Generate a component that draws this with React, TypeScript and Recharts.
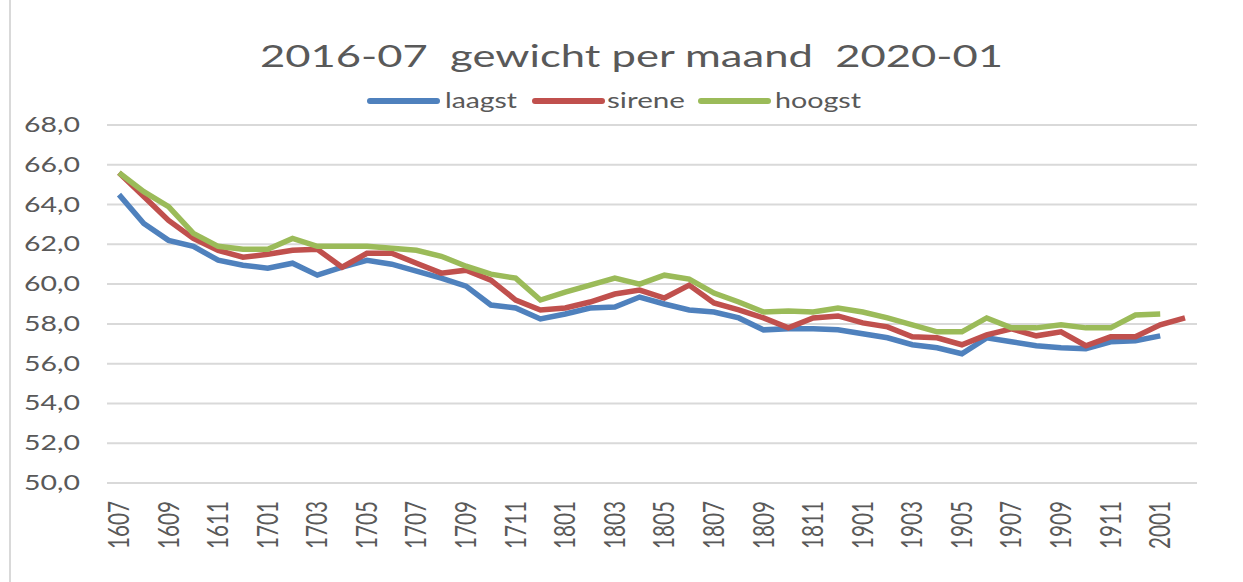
import React from 'react';
import { LineChart, Line, XAxis, YAxis, CartesianGrid, Legend } from 'recharts';

const months = [
  '1607', '1608', '1609', '1610', '1611', '1612',
  '1701', '1702', '1703', '1704', '1705', '1706', '1707', '1708', '1709', '1710', '1711', '1712',
  '1801', '1802', '1803', '1804', '1805', '1806', '1807', '1808', '1809', '1810', '1811', '1812',
  '1901', '1902', '1903', '1904', '1905', '1906', '1907', '1908', '1909', '1910', '1911', '1912',
  '2001', '2002',
];

const laagst = [
  64.5, 63.05, 62.2, 61.9, 61.2, 60.95,
  60.8, 61.05, 60.45, 60.85, 61.2, 61.0, 60.65, 60.3, 59.9, 58.95, 58.8, 58.25,
  58.5, 58.8, 58.85, 59.35, 59.0, 58.7, 58.6, 58.3, 57.7, 57.75, 57.75, 57.7,
  57.5, 57.3, 56.95, 56.8, 56.5, 57.3, 57.1, 56.9, 56.8, 56.75, 57.1, 57.15,
  57.4, null,
];

const sirene = [
  65.6, 64.4, 63.2, 62.3, 61.7, 61.35,
  61.5, 61.7, 61.75, 60.85, 61.55, 61.55, 61.05, 60.55, 60.7, 60.2, 59.2, 58.7,
  58.8, 59.1, 59.5, 59.7, 59.3, 59.95, 59.05, 58.7, 58.3, 57.8, 58.3, 58.4,
  58.05, 57.85, 57.35, 57.3, 56.95, 57.45, 57.75, 57.4, 57.6, 56.9, 57.35, 57.35,
  57.95, 58.3,
];

const hoogst = [
  65.6, 64.65, 63.9, 62.55, 61.9, 61.75,
  61.75, 62.3, 61.9, 61.9, 61.9, 61.8, 61.7, 61.4, 60.9, 60.5, 60.3, 59.2,
  59.6, 59.95, 60.3, 60.0, 60.45, 60.25, 59.55, 59.1, 58.6, 58.65, 58.6, 58.8,
  58.6, 58.3, 57.95, 57.6, 57.6, 58.3, 57.8, 57.8, 57.95, 57.8, 57.8, 58.45,
  58.5, null,
];

const yTicks = [50, 52, 54, 56, 58, 60, 62, 64, 66, 68];

const seriesInfo = [
  { key: 'laagst', name: 'laagst', color: '#4F81BD' },
  { key: 'sirene', name: 'sirene', color: '#C0504D' },
  { key: 'hoogst', name: 'hoogst', color: '#9BBB59' },
];

const data = months.map((m, i) => ({
  m,
  laagst: laagst[i],
  sirene: sirene[i],
  hoogst: hoogst[i],
}));

const FONT = 'Lato, "Liberation Sans", sans-serif';
const TEXT = '#595959';

const XTick = (props: any) => {
  const { x, y, payload } = props;
  return (
    <g transform={`translate(${x + 10},${y + 10})`}>
      <text
        transform="rotate(-90)"
        textAnchor="end"
        fontSize={28}
        textLength={48}
        lengthAdjust="spacingAndGlyphs"
        fill={TEXT}
        fontFamily={FONT}
      >
        {payload.value}
      </text>
    </g>
  );
};

const YTick = (props: any) => {
  const { y, payload } = props;
  const label = Number(payload.value).toFixed(1).replace('.', ',');
  return (
    <text
      x={80}
      y={y}
      dy={7}
      textAnchor="end"
      fontSize={21}
      textLength={56}
      lengthAdjust="spacingAndGlyphs"
      fill={TEXT}
      fontFamily={FONT}
    >
      {label}
    </text>
  );
};

const legendPos = [
  { lx: 367, tx: 445, tl: 72 },
  { lx: 532, tx: 607, tl: 78 },
  { lx: 698, tx: 775, tl: 86 },
];

const LegendContent = () => (
  <svg width={1243} height={30} style={{ display: 'block' }}>
    {seriesInfo.map((s, i) => (
      <g key={s.key}>
        <line
          x1={legendPos[i].lx + 3}
          x2={legendPos[i].lx + 70}
          y1={13}
          y2={13}
          stroke={s.color}
          strokeWidth={6}
          strokeLinecap="round"
        />
        <text
          x={legendPos[i].tx}
          y={20}
          fontSize={21}
          textLength={legendPos[i].tl}
          lengthAdjust="spacingAndGlyphs"
          fill={TEXT}
          fontFamily={FONT}
        >
          {s.name}
        </text>
      </g>
    ))}
  </svg>
);

export default function App() {
  return (
    <div style={{ position: 'absolute', left: 0, top: 0, width: 1243, height: 582, background: '#fff' }}>
      <div style={{ position: 'absolute', left: 9, top: 0, width: 2, height: 582, background: '#d9d9d9' }} />
      <svg width={1243} height={90} style={{ position: 'absolute', left: 0, top: 0 }}>
        <text
          x={260}
          y={67}
          fontSize={30}
          textLength={743}
          lengthAdjust="spacingAndGlyphs"
          fill={TEXT}
          fontFamily={FONT}
          style={{ whiteSpace: 'pre' }}
          xmlSpace="preserve"
        >
          {'2016-07  gewicht per maand  2020-01'}
        </text>
      </svg>
      <LineChart
        width={1243}
        height={582}
        data={data}
        margin={{ top: 95, right: 46, bottom: 39, left: 10 }}
        style={{ position: 'absolute', left: 0, top: 0 }}
      >
        <CartesianGrid vertical={false} stroke="#d9d9d9" strokeWidth={2} />
        <XAxis
          dataKey="m"
          interval={1}
          tick={<XTick />}
          tickLine={false}
          axisLine={{ stroke: '#d9d9d9', strokeWidth: 2 }}
          height={60}
          padding={{ left: 12, right: 12 }}
        />
        <YAxis
          domain={[50, 68]}
          ticks={yTicks}
          tick={<YTick />}
          tickLine={false}
          axisLine={false}
          width={97}
          interval={0}
        />
        <Legend
          verticalAlign="top"
          content={<LegendContent />}
          wrapperStyle={{ position: 'absolute', left: 0, top: 88, width: 1243 }}
        />
        {seriesInfo.map((s) => (
          <Line
            key={s.key}
            type="linear"
            dataKey={s.key}
            name={s.name}
            stroke={s.color}
            strokeWidth={5.5}
            dot={false}
            activeDot={false}
            isAnimationActive={false}
            connectNulls={false}
          />
        ))}
      </LineChart>
    </div>
  );
}
